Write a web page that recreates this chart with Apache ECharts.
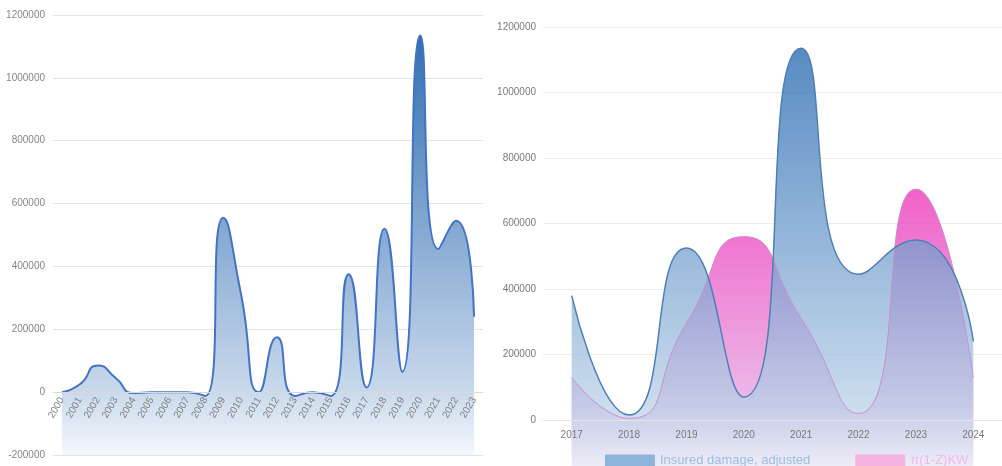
<!DOCTYPE html>
<html>
<head>
<meta charset="utf-8">
<script src="https://cdn.jsdelivr.net/npm/echarts@6/dist/echarts.min.js"></script>
<style>
  html, body { margin: 0; padding: 0; background: #fff; overflow: hidden; }
  /* taller than the window so the right panel's fill runs past the bottom edge */
  #chart { width: 1002px; height: 486px; }
</style>
</head>
<body>
<div id="chart"></div>
<script>
// left panel: insured damage 2000-2023
const leftYears = ['2000', '2001', '2002', '2003', '2004', '2005', '2006', '2007', '2008', '2009', '2010', '2011',
  '2012', '2013', '2014', '2015', '2016', '2017', '2018', '2019', '2020', '2021', '2022', '2023']
const leftDamage = [0, 25000, 85000, 45000, -3000, 0, 0, 0, -12000, 555000, 310000, 0,
  175000, -12000, 0, -12000, 375000, 15000, 520000, 65000, 1135000, 455000, 545000, 240000]

// right panel: 2017-2024, two series
const rightYears = ['2017', '2018', '2019', '2020', '2021', '2022', '2023', '2024']
const rightDamage = [380000, 15000, 525000, 70000, 1135000, 445000, 550000, 240000]
const rightKW = [130000, 5000, 295000, 560000, 310000, 20000, 705000, 130000]

const font = "'Liberation Sans', Arial, sans-serif"

const grad = (stops) => new echarts.graphic.LinearGradient(0, 0, 0, 1,
  stops.map(([offset, color]) => ({ offset, color })))

const myChart = echarts.init(document.getElementById('chart'))

const options = {
  animation: false,
  legend: {
    left: 600,
    top: 449,
    icon: 'rect',
    itemWidth: 50,
    itemHeight: 12,
    itemGap: 45,
    textStyle: { fontFamily: font, fontSize: 13 },
    data: [
      { name: 'Insured damage, adjusted', itemStyle: { color: '#8fb4dc' }, textStyle: { color: '#9dbde2' } },
      { name: 'π(1-Z)KW', itemStyle: { color: '#f5b3e2' }, textStyle: { color: '#f5b8e3' } }
    ]
  },
  grid: [
    { left: 53, right: 519, top: 15, bottom: 31 },
    { left: 543, right: -2, top: 27, bottom: 0.5 }
  ],
  xAxis: [
    {
      gridIndex: 0,
      type: 'category',
      boundaryGap: true,
      data: leftYears,
      position: 'bottom',
      offset: -62.86,
      z: 5,
      axisTick: { show: false },
      axisLine: { onZero: false, lineStyle: { color: '#d9d9d9' } },
      axisLabel: { rotate: 60, color: '#808080', fontSize: 10, margin: 6, fontFamily: font, interval: 0 }
    },
    {
      gridIndex: 1,
      type: 'category',
      boundaryGap: true,
      data: rightYears,
      position: 'bottom',
      offset: -65.5,
      z: 5,
      axisTick: { show: false },
      axisLine: { onZero: false, lineStyle: { color: '#e6e6e6' } },
      axisLabel: { color: '#7a7a7a', fontSize: 10, margin: 10, fontFamily: font, interval: 0 }
    }
  ],
  yAxis: [
    {
      gridIndex: 0,
      type: 'value',
      min: -200000,
      max: 1200000,
      interval: 200000,
      axisLabel: { color: '#858585', fontSize: 10, margin: 8, fontFamily: font, formatter: v => String(v) },
      splitLine: { lineStyle: { color: '#e3e3e3' } }
    },
    {
      gridIndex: 1,
      type: 'value',
      min: -200000,
      max: 1200000,
      interval: 200000,
      axisLabel: {
        color: '#7a7a7a', fontSize: 10, margin: 7, fontFamily: font,
        formatter: v => (v < 0 ? '' : String(v))
      },
      splitLine: { showMinLine: false, lineStyle: { color: '#ececec' } }
    }
  ],
  series: [
    {
      name: 'left damage',
      type: 'line',
      xAxisIndex: 0,
      yAxisIndex: 0,
      smooth: 0.6,
      showSymbol: false,
      lineStyle: { color: '#4472c4', width: 2 },
      areaStyle: {
        origin: 'start',
        opacity: 0.95,
        color: grad([[0, '#2867ae'], [0.85, '#c6d7eb'], [1, '#f4f7fc']])
      },
      data: leftDamage
    },
    {
      name: 'π(1-Z)KW',
      type: 'line',
      xAxisIndex: 1,
      yAxisIndex: 1,
      smooth: 0.6,
      showSymbol: false,
      lineStyle: { color: '#c58fcf', width: 1 },
      areaStyle: {
        origin: 'start',
        opacity: 0.82,
        color: grad([[0, '#ee3fbd'], [0.75, '#e6aee4'], [1, '#fbf1fa']])
      },
      data: rightKW
    },
    {
      name: 'Insured damage, adjusted',
      type: 'line',
      xAxisIndex: 1,
      yAxisIndex: 1,
      smooth: 0.6,
      showSymbol: false,
      lineStyle: { color: '#4f7fb3', width: 1.5 },
      areaStyle: {
        origin: 'start',
        opacity: 0.75,
        color: grad([[0, '#1f64ae'], [0.82, '#b9d0e8'], [1, '#f8fafd']])
      },
      data: rightDamage
    }
  ]
}

myChart.setOption(options)
</script>
</body>
</html>
